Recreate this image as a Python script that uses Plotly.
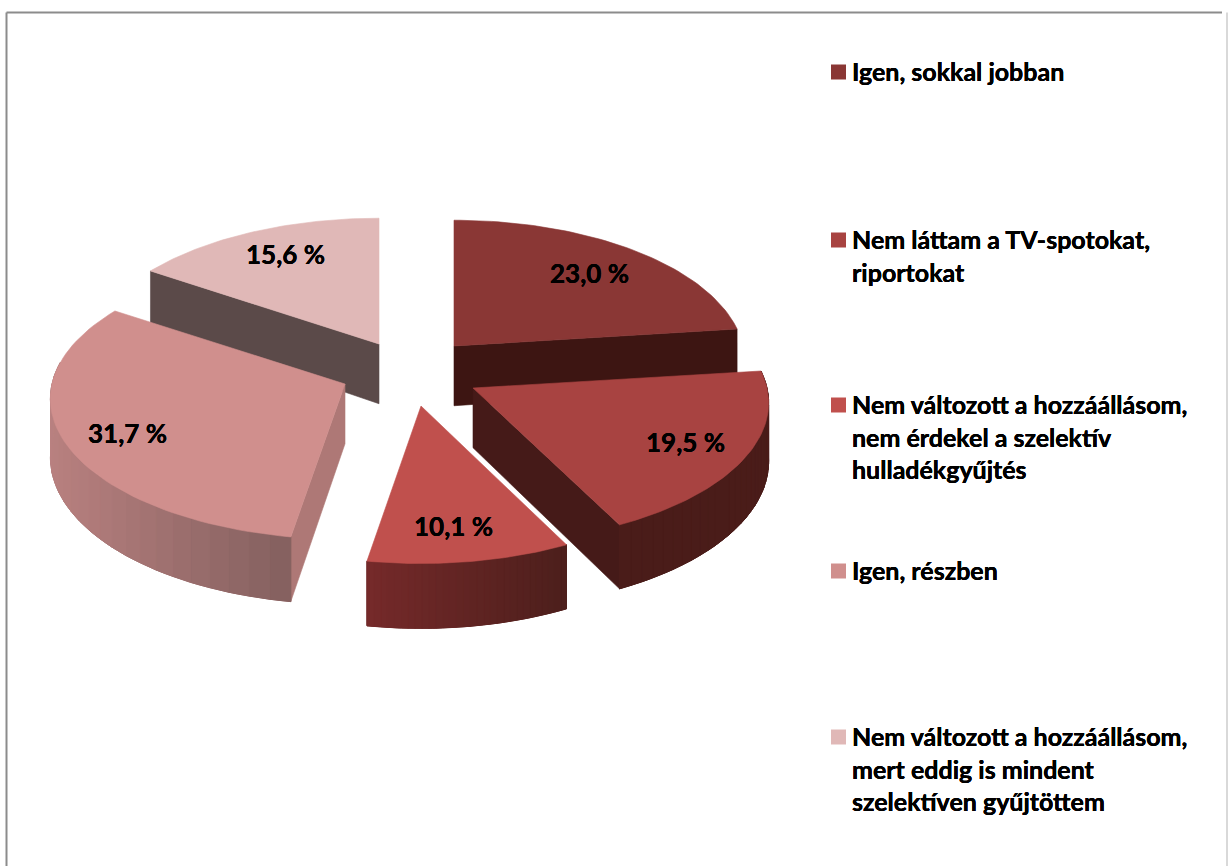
import math
import plotly.graph_objects as go

# --- data ---
categories = ["Igen, sokkal jobban", "Nem láttam a TV-spotokat, riportokat",
              "Nem változott a hozzáállásom, nem érdekel a szelektív hulladékgyűjtés",
              "Igen, részben",
              "Nem változott a hozzáállásom, mert eddig is mindent szelektíven gyűjtöttem"]
values = [23.0, 19.5, 10.1, 31.7, 15.6]
legend_lines = ["Igen, sokkal jobban", "Nem láttam a TV-spotokat,<br>riportokat",
                "Nem változott a hozzáállásom,<br>nem érdekel a szelektív<br>hulladékgyűjtés",
                "Igen, részben",
                "Nem változott a hozzáállásom,<br>mert eddig is mindent<br>szelektíven gyűjtöttem"]

# --- styling / layout ---
top_colors = ["#8a3735", "#a84341", "#c0504d", "#d08f8d", "#e0b8b7"]
legend_colors = ["#8a3735", "#a84341", "#c0504d", "#d08f8d", "#e0b8b7"]
radial_colors = ["#3d1512", "#451a18", "#72282a", "#ae7876", "#5b4a49"]
arc_left = ["#5a2220", "#4a1c19", "#762a2a", "#b98180", "#8a6a69"]
arc_right = ["#5a2220", "#4a1c19", "#4d1f1c", "#866160", "#8a6a69"]
apex = [(454, 346), (473, 388), (421, 406), (345, 384), (379, 344)]
rx = [289, 294, 292, 293, 291]
ry = [139, 139, 141, 139, 139]
K = 0.105
DEPTH = 58
label_pos = [(589, 273), (685, 442), (453, 526), (127, 433), (285, 254)]
legend_y = [72, 240, 405, 571, 737]

INK = "#000000"
FONT = "Lato"
HEAVY = "0 0 0.6px #000, 0 0 0.6px #000"


def project(i, deg):
    t = math.radians(deg)
    X, Y = math.sin(t), -math.cos(t)
    s = 1 / (1 - K * Y)
    return apex[i][0] + rx[i] * X * s, apex[i][1] + ry[i] * Y * s, s


def mix(c1, c2, f):
    a = [int(c1[j:j + 2], 16) for j in (1, 3, 5)]
    b = [int(c2[j:j + 2], 16) for j in (1, 3, 5)]
    return "#%02x%02x%02x" % tuple(round(p + (q - p) * f) for p, q in zip(a, b))


def poly(fig, xs, ys, color, lw=0.6):
    fig.add_trace(go.Scatter(x=xs + xs[:1], y=ys + ys[:1], mode="lines", fill="toself",
                             fillcolor=color, line=dict(color=color, width=lw),
                             hoverinfo="skip", showlegend=False))


fig = go.Figure()

# slice angles come from the values
total = sum(values)
edges = [0.0]
for v in values:
    edges.append(edges[-1] + v / total * 360)

# paint far slices first
for i in [4, 0, 3, 2, 1]:
    a0, a1 = edges[i], edges[i + 1]
    ax, ay = apex[i]
    n = 60
    angles = [a0 + (a1 - a0) * k / n for k in range(n + 1)]
    rim = [project(i, a) for a in angles]

    # radial wall facing the viewer
    if i in (0, 1):
        px, py, ps = rim[-1]
    elif i in (3, 4):
        px, py, ps = rim[0]
    else:
        px, py, ps = None, None, None
    if px is not None:
        poly(fig, [ax, px, px, ax], [ay, py, py + DEPTH * ps, ay + DEPTH * 1.03], radial_colors[i])

    # outer curved wall: a base polygon, then shaded bands
    if i in (1, 2, 3):
        vis = [k for k in range(n + 1) if -math.cos(math.radians(angles[k])) >= -0.16]
        vr = [rim[k] for k in vis]
        xmin, xmax = min(r[0] for r in rim), max(r[0] for r in rim)
        bx = [r[0] for r in vr] + [r[0] for r in reversed(vr)]
        by = [r[1] for r in vr] + [r[1] + DEPTH * r[2] for r in reversed(vr)]
        poly(fig, bx, by, mix(arc_left[i], arc_right[i], 0.5), lw=1)
        for j in range(0, len(vr) - 1, 2):
            seg = vr[j:j + 3]
            f = (seg[0][0] - xmin) / (xmax - xmin)
            sx = [r[0] for r in seg] + [r[0] for r in reversed(seg)]
            sy = [r[1] for r in seg] + [r[1] + DEPTH * r[2] for r in reversed(seg)]
            poly(fig, sx, sy, mix(arc_left[i], arc_right[i], f), lw=1)

    # top face
    poly(fig, [ax] + [r[0] for r in rim], [ay] + [r[1] for r in rim], top_colors[i])

# value labels
for v, (x, y) in zip(values, label_pos):
    fig.add_annotation(x=x, y=y, text=f"<b>{v:.1f} %</b>".replace(".", ","), showarrow=False,
                       font=dict(family=FONT, size=26, color=INK, shadow=HEAVY),
                       xanchor="center", yanchor="middle")

# legend
fig.add_trace(go.Scatter(x=[838.5] * len(legend_y), y=legend_y, mode="markers",
                         marker=dict(symbol="square", size=15, color=legend_colors, line=dict(width=0)),
                         hoverinfo="skip", showlegend=False))
for text, y in zip(legend_lines, legend_y):
    fig.add_annotation(x=852, y=y - 16, text=f"<b>{text}</b>", showarrow=False, align="left",
                       font=dict(family=FONT, size=25, color=INK, shadow=HEAVY),
                       xanchor="left", yanchor="top", borderpad=0, borderwidth=0)

fig.update_layout(
    width=1228, height=866, autosize=False, margin=dict(l=0, r=0, t=0, b=0),
    paper_bgcolor="white", plot_bgcolor="white", showlegend=False,
    xaxis=dict(range=[0, 1228], visible=False, fixedrange=True),
    yaxis=dict(range=[866, 0], visible=False, fixedrange=True),
    shapes=[
        dict(type="line", x0=6.5, y0=12.5, x1=1222, y1=12.5, line=dict(color="#8c8c8c", width=2), layer="below"),
        dict(type="line", x0=6.5, y0=12.5, x1=6.5, y1=866, line=dict(color="#8c8c8c", width=2), layer="below"),
        dict(type="line", x0=1227, y0=12.5, x1=1227, y1=866, line=dict(color="#d9d9d9", width=2), layer="below"),
    ],
)
fig.write_html("out.html", config={"displayModeBar": False},
               post_script="document.body.style.margin='0';document.body.style.overflow='hidden';")
